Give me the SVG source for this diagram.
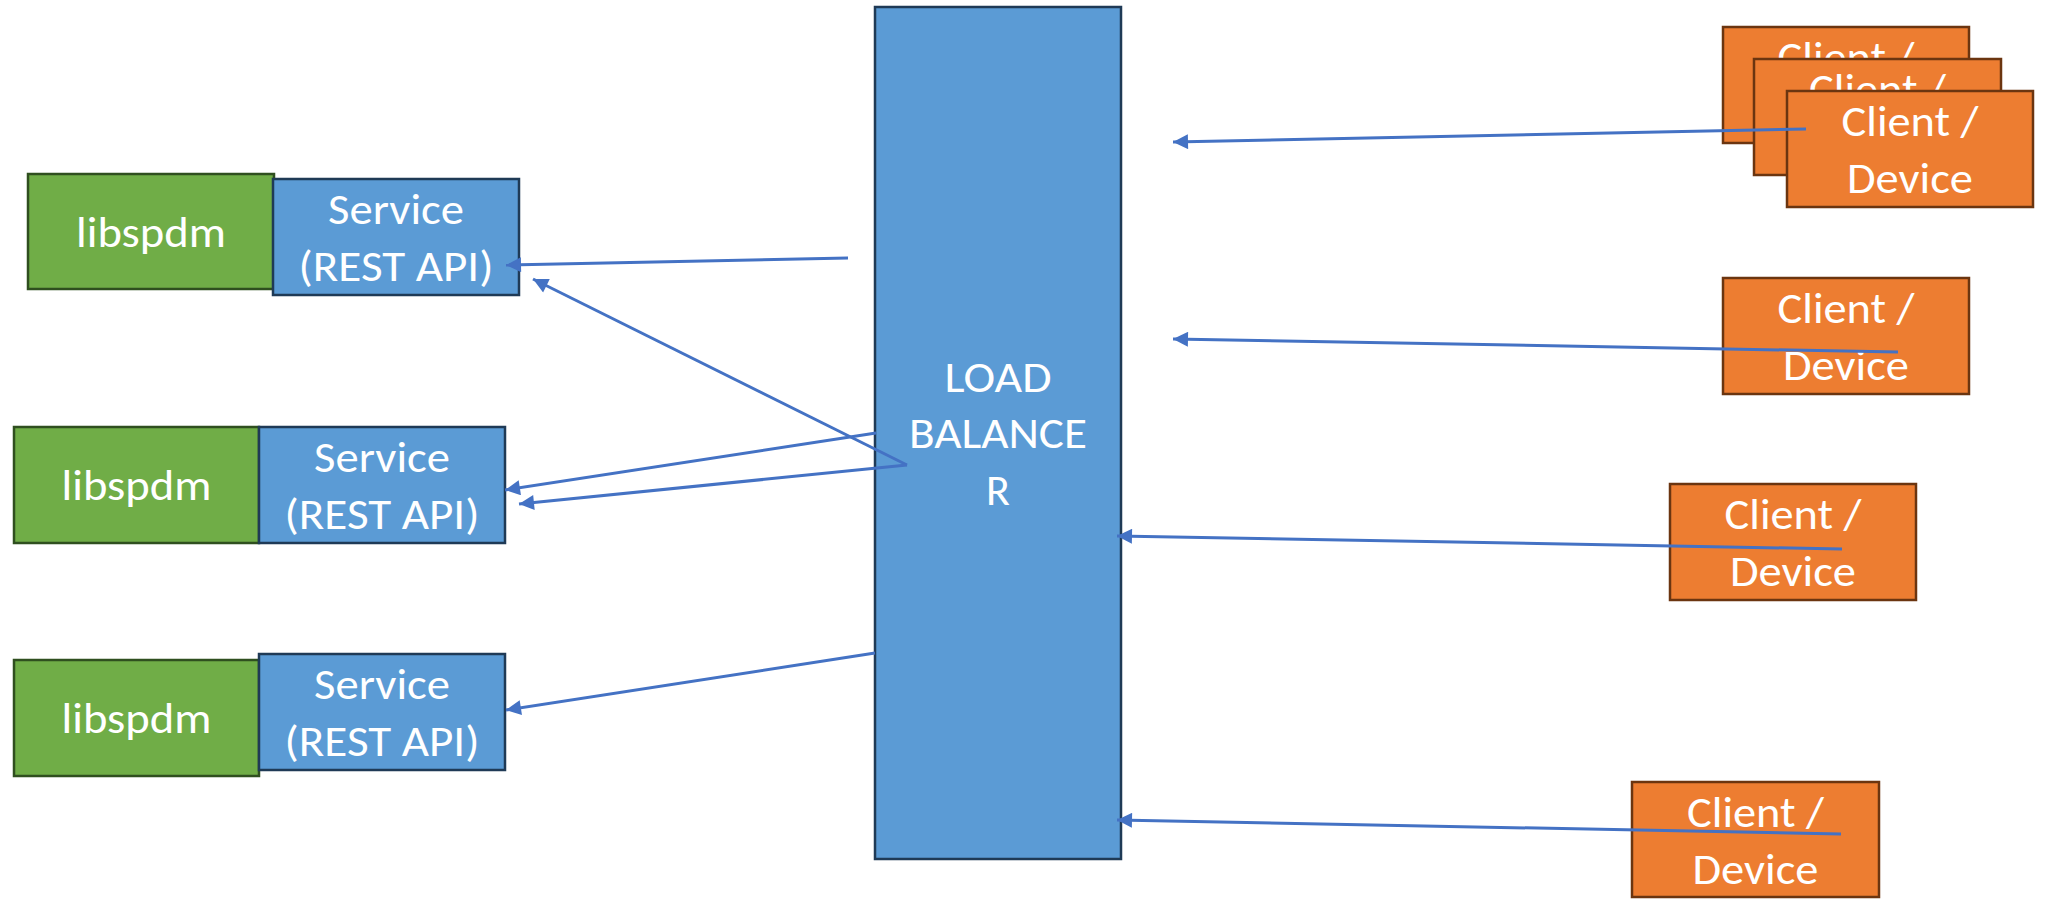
<svg xmlns="http://www.w3.org/2000/svg" width="2050" height="901" viewBox="0 0 2050 901">
<defs>
<style>
.lib{fill:#70AD47;stroke:#2F4F1F;stroke-width:2.5}
.svc{fill:#5B9BD5;stroke:#1F3A56;stroke-width:2.5}
.cli{fill:#ED7D31;stroke:#6B3510;stroke-width:2.5}
.t{font-family:Carlito,Lato,"Liberation Sans",sans-serif;font-size:44px;fill:#FFFFFF;text-anchor:middle}
.c{fill:none;stroke:#4472C4;stroke-width:3}
</style>
<marker id="ah" viewBox="0 0 10 10" refX="10" refY="5" markerUnits="userSpaceOnUse" markerWidth="16" markerHeight="15" orient="auto">
<path d="M0,0 L10,5 L0,10 z" fill="#4472C4"/>
</marker>
</defs>
<rect width="2050" height="901" fill="#FFFFFF"/>
<g id="lb">
<rect class="svc" x="875" y="7" width="246" height="852"/>
<text class="t" x="998" y="391.5" textLength="107" lengthAdjust="spacingAndGlyphs">LOAD</text>
<text class="t" x="998" y="448" textLength="178" lengthAdjust="spacingAndGlyphs">BALANCE</text>
<text class="t" x="998" y="504.5">R</text>
</g>
<g id="lib1">
<rect class="lib" x="28" y="174" width="246" height="115"/>
<text class="t" x="151" y="246.5" textLength="150" lengthAdjust="spacingAndGlyphs">libspdm</text>
</g>
<g id="svc1">
<rect class="svc" x="273" y="179" width="246" height="116"/>
<text class="t" x="396" y="223.5" textLength="136" lengthAdjust="spacingAndGlyphs">Service</text>
<text class="t" x="396" y="280.5" textLength="195" lengthAdjust="spacingAndGlyphs">(REST API)</text>
</g>
<g id="lib2">
<rect class="lib" x="14" y="427" width="245" height="116"/>
<text class="t" x="136.5" y="500" textLength="150" lengthAdjust="spacingAndGlyphs">libspdm</text>
</g>
<g id="svc2">
<rect class="svc" x="259" y="427" width="246" height="116"/>
<text class="t" x="382" y="471.5" textLength="136" lengthAdjust="spacingAndGlyphs">Service</text>
<text class="t" x="382" y="528.5" textLength="195" lengthAdjust="spacingAndGlyphs">(REST API)</text>
</g>
<g id="lib3">
<rect class="lib" x="14" y="660" width="245" height="116"/>
<text class="t" x="136.5" y="733" textLength="150" lengthAdjust="spacingAndGlyphs">libspdm</text>
</g>
<g id="svc3">
<rect class="svc" x="259" y="654" width="246" height="116"/>
<text class="t" x="382" y="698.5" textLength="136" lengthAdjust="spacingAndGlyphs">Service</text>
<text class="t" x="382" y="755.5" textLength="195" lengthAdjust="spacingAndGlyphs">(REST API)</text>
</g>
<g id="client1">
<rect class="cli" x="1723" y="27" width="246" height="116"/>
<text class="t" x="1846" y="71.5" textLength="137" lengthAdjust="spacingAndGlyphs">Client /</text>
</g>
<g id="client2">
<rect class="cli" x="1754" y="59" width="247" height="116"/>
<text class="t" x="1877.5" y="103.5" textLength="137" lengthAdjust="spacingAndGlyphs">Client /</text>
</g>
<g id="client3">
<rect class="cli" x="1787" y="91" width="246" height="116"/>
<text class="t" x="1910" y="135.5" textLength="137" lengthAdjust="spacingAndGlyphs">Client /</text>
<text class="t" x="1910" y="192.5" textLength="126" lengthAdjust="spacingAndGlyphs">Device</text>
</g>
<g id="client4">
<rect class="cli" x="1723" y="278" width="246" height="116"/>
<text class="t" x="1846" y="322.5" textLength="137" lengthAdjust="spacingAndGlyphs">Client /</text>
<text class="t" x="1846" y="379.5" textLength="126" lengthAdjust="spacingAndGlyphs">Device</text>
</g>
<g id="client5">
<rect class="cli" x="1670" y="484" width="246" height="116"/>
<text class="t" x="1793" y="528.5" textLength="137" lengthAdjust="spacingAndGlyphs">Client /</text>
<text class="t" x="1793" y="585.5" textLength="126" lengthAdjust="spacingAndGlyphs">Device</text>
</g>
<g id="client6">
<rect class="cli" x="1632" y="782" width="247" height="115"/>
<text class="t" x="1755.5" y="826.5" textLength="137" lengthAdjust="spacingAndGlyphs">Client /</text>
<text class="t" x="1755.5" y="883.5" textLength="126" lengthAdjust="spacingAndGlyphs">Device</text>
</g>
<g id="connectors">
<line class="c" x1="1806" y1="129" x2="1173" y2="142" marker-end="url(#ah)"/>
<line class="c" x1="1898" y1="352" x2="1173" y2="339" marker-end="url(#ah)"/>
<line class="c" x1="1842" y1="549" x2="1117" y2="536" marker-end="url(#ah)"/>
<line class="c" x1="1841" y1="834" x2="1117" y2="820" marker-end="url(#ah)"/>
<line class="c" x1="848" y1="258" x2="506" y2="265" marker-end="url(#ah)"/>
<line class="c" x1="907" y1="465" x2="533" y2="279" marker-end="url(#ah)"/>
<line class="c" x1="907" y1="465" x2="519" y2="504" marker-end="url(#ah)"/>
<line class="c" x1="876" y1="433" x2="505" y2="490" marker-end="url(#ah)"/>
<line class="c" x1="875" y1="653" x2="506" y2="710" marker-end="url(#ah)"/>
</g>
</svg>
